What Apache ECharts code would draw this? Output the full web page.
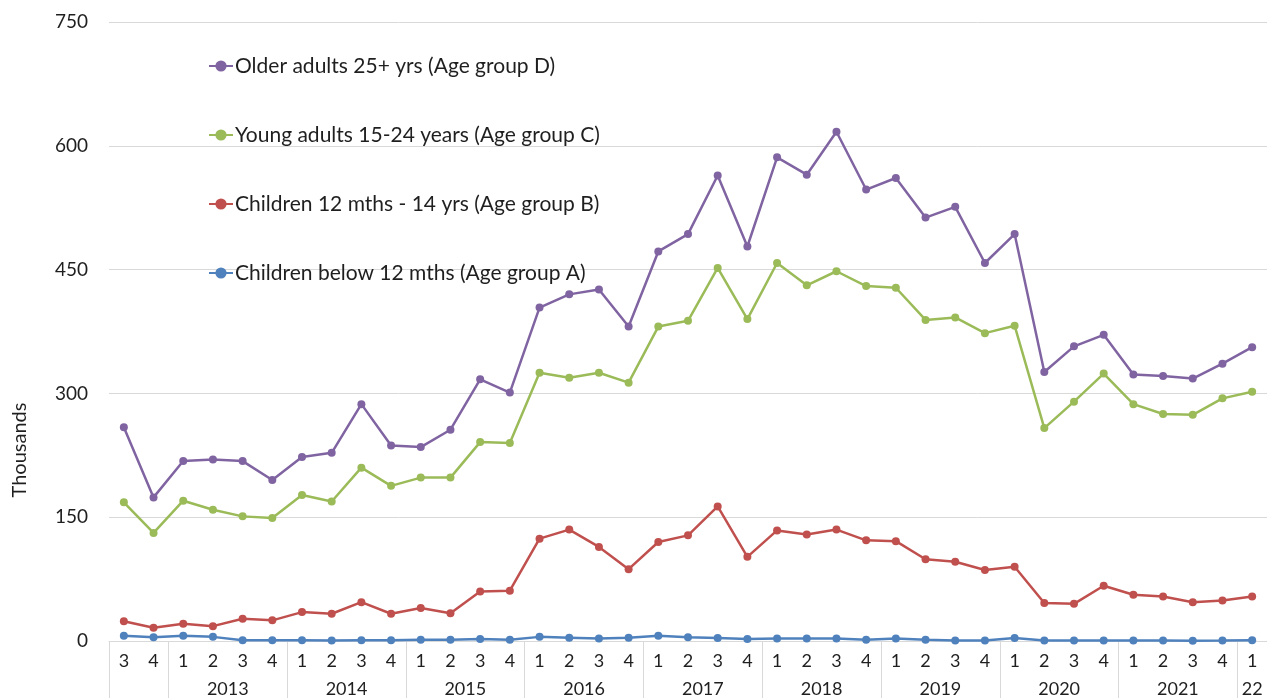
<!DOCTYPE html>
<html>
<head>
<meta charset="utf-8">
<script src="https://cdn.jsdelivr.net/npm/echarts@6/dist/echarts.min.js"></script>
<style>
  html, body { margin: 0; padding: 0; background: #ffffff; }
  #chart { width: 1267px; height: 698px; }
</style>
</head>
<body>
<div id="chart"></div>
<script>
// Quarter labels along the axis (2012 Q3 to 2022 Q1)
const quarterLabels = ['3','4',
  '1','2','3','4', '1','2','3','4', '1','2','3','4', '1','2','3','4',
  '1','2','3','4', '1','2','3','4', '1','2','3','4', '1','2','3','4',
  '1','2','3','4', '1'];

// Year groups under the quarter labels and how many quarters each spans
const yearLabels = ['', '2013', '2014', '2015', '2016', '2017', '2018', '2019', '2020', '2021', '22'];
const yearSpans  = [2, 4, 4, 4, 4, 4, 4, 4, 4, 4, 1];

// Values in thousands
const groupD = [259, 174, 218, 220, 218, 195, 223, 228, 287, 237, 235, 256, 317, 301, 404, 420, 426, 381, 472, 493,
  564, 478, 586, 565, 617, 547, 561, 513, 526, 458, 493, 326, 357, 371, 323, 321, 318, 336, 356];
const groupC = [168, 131, 170, 159, 151, 149, 177, 169, 210, 188, 198, 198, 241, 240, 325, 319, 325, 313, 381, 388,
  452, 390, 458, 431, 448, 430, 428, 389, 392, 373, 382, 258, 290, 324, 287, 275, 274, 294, 302];
const groupB = [24, 16, 21, 18, 27, 25, 35, 33, 47, 33, 40, 33.5, 60, 61, 124, 135, 114, 87, 120, 128,
  163, 102, 134, 129, 135, 122, 121, 99, 96, 86, 90, 46, 45, 67, 56, 54, 47, 49, 54];
const groupA = [6.5, 4.5, 6.5, 5, 1, 1, 1, 0.5, 1, 1, 1.5, 1.5, 2.5, 1.5, 5, 4, 3, 4, 6.5, 4.5,
  3.5, 2.5, 3, 3, 3, 1.5, 3, 1.5, 0.5, 0.5, 3.5, 0.5, 0.5, 0.5, 0.5, 0.5, 0.3, 0.5, 1];

const seriesNames = [
  'Older adults 25+ yrs (Age group D)',
  'Young adults 15-24 years (Age group C)',
  'Children 12 mths - 14 yrs (Age group B)',
  'Children below 12 mths (Age group A)'
];
const yTicks = { min: 0, max: 750, interval: 150 };

// Year boundaries and centres on a 0..N band scale
const boundaries = [0];
const centers = [];
yearSpans.forEach(function (n) {
  const start = boundaries[boundaries.length - 1];
  centers.push(start + n / 2);
  boundaries.push(start + n);
});
const nQuarters = quarterLabels.length;

const FONT = 'Lato, "Open Sans", sans-serif';
const GRID_COLOR = '#d9d9d9';
const TEXT_COLOR = '#1f1f1f';
const colors = ['#8064A2', '#9BBB59', '#C0504D', '#4F81BD'];

function lineSeries(name, data, color) {
  return {
    name: name,
    type: 'line',
    xAxisIndex: 0,
    data: data,
    symbol: 'circle',
    symbolSize: 8,
    lineStyle: { width: 2.5, color: color },
    itemStyle: { color: color },
    emphasis: { disabled: true },
    animation: false
  };
}

const chart = echarts.init(document.getElementById('chart'));
chart.setOption({
  animation: false,
  textStyle: { fontFamily: FONT },
  grid: { left: 109, top: 22, width: 1160, bottom: 56, containLabel: false },
  legend: {
    orient: 'vertical',
    left: 208,
    top: 55,
    padding: 0,
    itemGap: 47,
    itemWidth: 24,
    itemHeight: 14,
    data: seriesNames,
    textStyle: { fontSize: 21, color: TEXT_COLOR, lineHeight: 22, fontFamily: FONT, padding: [0, 0, 0, -3] }
  },
  xAxis: [
    {
      type: 'category',
      data: quarterLabels,
      position: 'bottom',
      offset: 0,
      boundaryGap: true,
      axisLine: { lineStyle: { color: GRID_COLOR, width: 1 } },
      axisTick: { show: false },
      axisLabel: { interval: 0, margin: 11, fontSize: 18, color: TEXT_COLOR, fontFamily: FONT }
    },
    {
      type: 'value',
      min: 0,
      max: nQuarters,
      position: 'bottom',
      offset: 0,
      axisLine: { show: false },
      splitLine: { show: false },
      axisTick: {
        show: true,
        customValues: boundaries,
        length: 60,
        lineStyle: { color: GRID_COLOR, width: 1 }
      },
      axisLabel: {
        customValues: centers,
        margin: 39,
        fontSize: 18,
        color: TEXT_COLOR,
        fontFamily: FONT,
        hideOverlap: false,
        formatter: function (v) {
          const i = centers.indexOf(v);
          return i >= 0 ? yearLabels[i] : '';
        }
      }
    }
  ],
  yAxis: {
    type: 'value',
    min: yTicks.min,
    max: yTicks.max,
    interval: yTicks.interval,
    axisLine: { show: false },
    axisTick: { show: false },
    splitLine: { lineStyle: { color: GRID_COLOR, width: 1 } },
    axisLabel: { margin: 21, fontSize: 19, color: TEXT_COLOR, fontFamily: FONT }
  },
  graphic: [
    {
      type: 'text',
      x: 20,
      y: 450,
      rotation: Math.PI / 2,
      style: {
        text: 'Thousands',
        fontSize: 20,
        fontFamily: FONT,
        fill: TEXT_COLOR,
        align: 'center',
        verticalAlign: 'middle'
      }
    }
  ],
  series: [
    lineSeries(seriesNames[3], groupA, colors[3]),
    lineSeries(seriesNames[2], groupB, colors[2]),
    lineSeries(seriesNames[1], groupC, colors[1]),
    lineSeries(seriesNames[0], groupD, colors[0])
  ]
});
</script>
</body>
</html>
